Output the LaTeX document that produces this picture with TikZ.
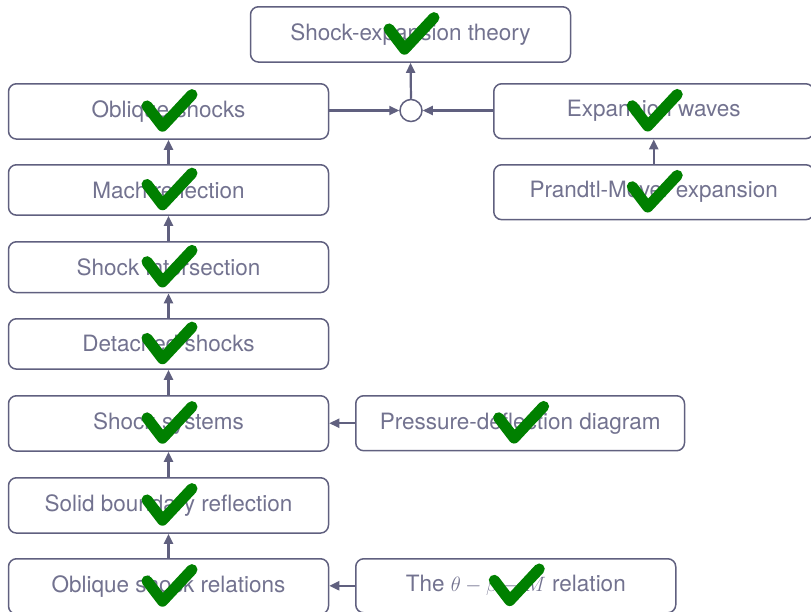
\documentclass[tikz,border=0pt]{standalone}
\usepackage{fontspec}
\setmainfont{TeX Gyre Heros}
\usetikzlibrary{arrows.meta}

\definecolor{edge}{HTML}{60607F}
\definecolor{ink}{HTML}{72728F}
\definecolor{tick}{HTML}{008000}

\tikzset{
  topic/.style={draw=edge, line width=1.5pt, rounded corners=8pt,
    minimum width=320pt, inner xsep=24pt, inner ysep=16.8pt,
    text=ink, font=\fontsize{22.5}{27}\selectfont},
  link/.style={draw=edge, line width=2.2pt, -{Triangle[length=10pt,width=9pt]}},
  hub/.style={circle, draw=edge, line width=1.5pt, minimum size=22pt, inner sep=0pt},
  done/.style={draw=tick, line width=11pt, line cap=round, line join=round},
}

% green tick centred on a node
\newcommand{\tickon}[1]{%
  \draw[done] ([shift={(-21.5,-5.5)}]#1.center) -- ++(15.5,20.3) -- ++(29.5,-31.6);}

\begin{document}
\begin{tikzpicture}[x=1pt, y=-1pt]
\useasboundingbox (0,0) rectangle (811,611);

% left column
\node[topic, anchor=north] (top)   at (410.5,6)   {Shock-expansion theory};
\node[topic, anchor=north] (obl)   at (168.5,83)  {Oblique shocks};
\node[topic, anchor=north] (mach)  at (168.5,164) {Mach reflection};
\node[topic, anchor=north] (inter) at (168.5,241) {Shock intersection};
\node[topic, anchor=north] (det)   at (168.5,318) {Detached shocks};
\node[topic, anchor=north] (sys)   at (168.5,395) {Shock systems};
\node[topic, anchor=north] (solid) at (168.5,477) {Solid boundary reflection};
\node[topic, anchor=north] (rel)   at (168.5,558) {Oblique shock relations};

% right side
\node[topic, anchor=north west] (exp) at (493,83)  {Expansion waves};
\node[topic, anchor=north west] (pm)  at (493,164) {Prandtl-Meyer expansion};
\node[topic, anchor=north west] (pd)  at (355,395) {Pressure-deflection diagram};
\node[topic, anchor=north west] (tbm) at (355,558) {The $\theta-\beta-M$ relation};

\node[hub] (join) at (411,110.5) {};

% connectors
\draw[link] (rel.north)   -- (solid.south);
\draw[link] (solid.north) -- (sys.south);
\draw[link] (sys.north)   -- (det.south);
\draw[link] (det.north)   -- (inter.south);
\draw[link] (inter.north) -- (mach.south);
\draw[link] (mach.north)  -- (obl.south);
\draw[link] (pm.north)    -- (exp.south);
\draw[link] (join.west -| obl.east) -- (join.west);
\draw[link] (join.east -| exp.west) -- (join.east);
\draw[link] (join.north)  -- (top.south);
\draw[link] (pd.west)     -- (pd.west -| sys.east);
\draw[link] (tbm.west)    -- (tbm.west -| rel.east);

% ticks
\foreach \n in {top,obl,mach,inter,det,sys,solid,rel,exp,pm,pd,tbm} {\tickon{\n}}
\end{tikzpicture}
\end{document}
